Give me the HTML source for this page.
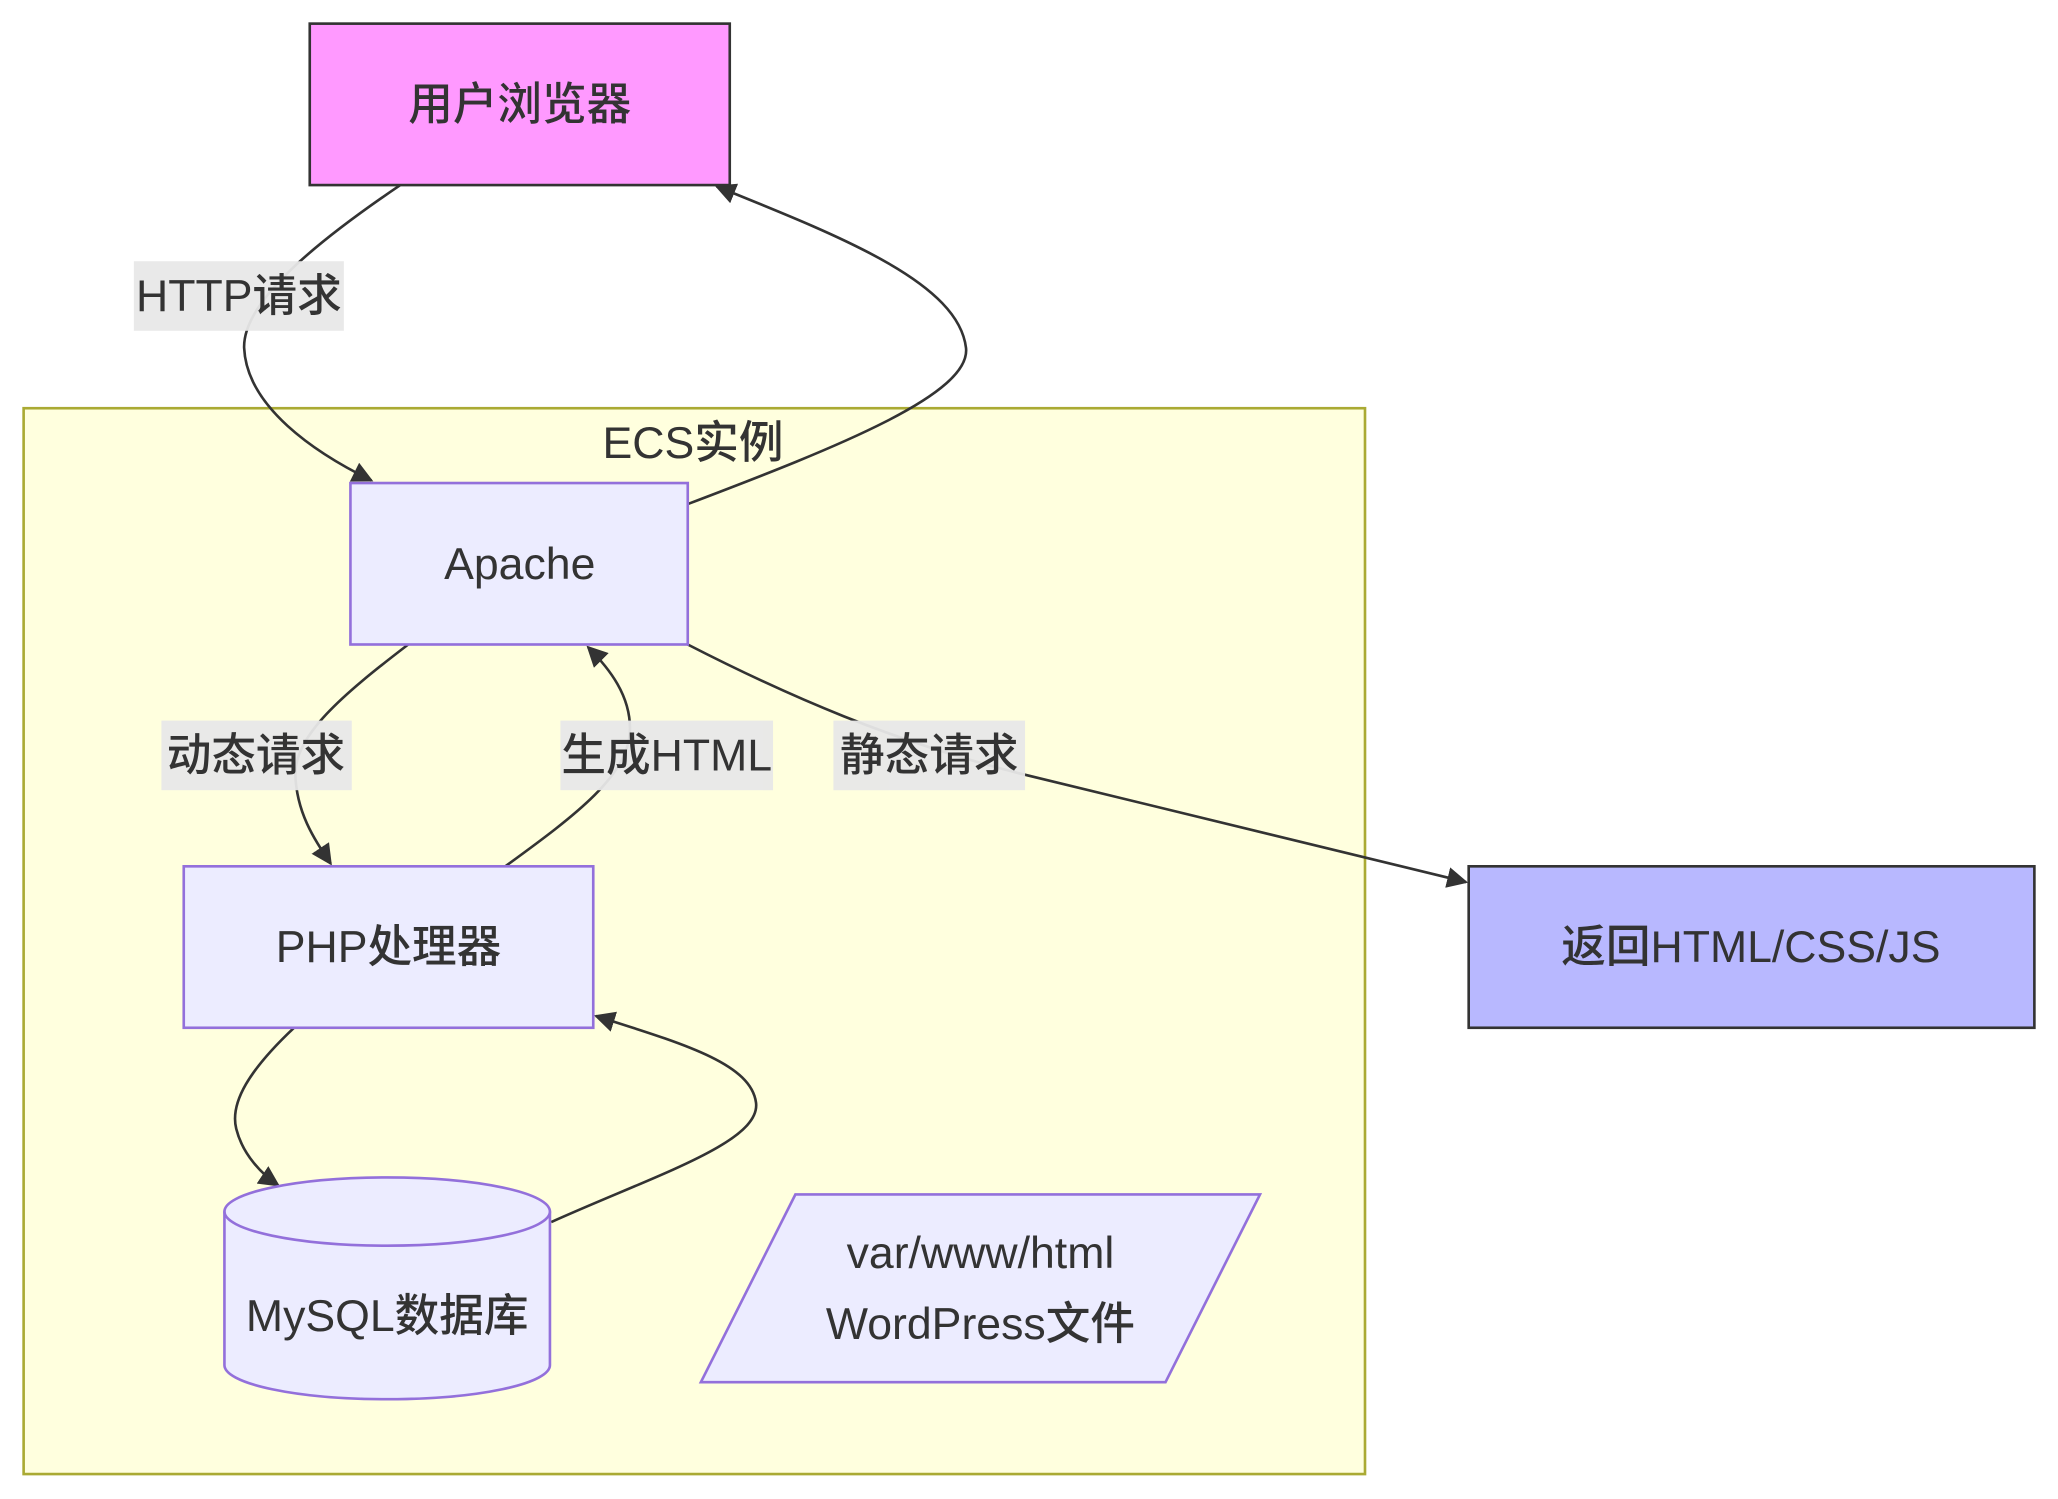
<!DOCTYPE html>
<html><head><meta charset="utf-8"><style>
html,body{margin:0;padding:0;background:#fff;}
svg{display:block}
text{font-family:"Liberation Sans","Noto Sans CJK SC",sans-serif;fill:#333;font-size:34px;font-weight:500;}
</style></head><body>
<svg width="2058" height="1499" viewBox="0 0 1568 1142" preserveAspectRatio="none">
<defs><marker id="a" viewBox="0 0 10 10" refX="9" refY="5" markerWidth="8" markerHeight="8" orient="auto"><path d="M0,0L10,5L0,10z" fill="#333"/></marker></defs>
<rect x="18" y="311" width="1022" height="812" fill="#ffffde" stroke="#aaaa33" stroke-width="2"/>
<text x="528" y="349" text-anchor="middle">ECS实例</text>
<g fill="none" stroke="#333" stroke-width="2">
<path d="M305,141 C240,185 185,230 186,265 C188,310 240,345 283,366" marker-end="url(#a)"/>
<path d="M524,384 C640,340 740,300 736,265 C730,215 640,180 546,142" marker-end="url(#a)"/>
<path d="M311,491 C260,530 225,560 225,590 C226,620 240,640 252,658" marker-end="url(#a)"/>
<path d="M385,660 C440,620 480,590 480,555 C480,530 465,510 448,493" marker-end="url(#a)"/>
<path d="M524,491 C600,530 680,565 780,590 L1117,672" marker-end="url(#a)"/>
<path d="M224,783 C190,815 175,840 180,860 C185,880 200,895 212,903" marker-end="url(#a)"/>
<path d="M420,931 C500,895 580,870 576,840 C572,810 520,795 454,774" marker-end="url(#a)"/>
</g>
<rect x="236" y="18" width="320" height="123" fill="#ff99ff" stroke="#333" stroke-width="2"/>
<text x="396" y="91" text-anchor="middle">用户浏览器</text>
<rect x="267" y="368" width="257" height="123" fill="#ececff" stroke="#9370db" stroke-width="2"/>
<text x="396" y="441" text-anchor="middle">Apache</text>
<rect x="140" y="660" width="312" height="123" fill="#ececff" stroke="#9370db" stroke-width="2"/>
<text x="296" y="733" text-anchor="middle">PHP处理器</text>
<rect x="1119" y="660" width="431" height="123" fill="#b8b8ff" stroke="#333" stroke-width="2"/>
<text x="1334" y="733" text-anchor="middle">返回HTML/CSS/JS</text>
<path d="M171,923 A124,26 0 0 1 419,923 L419,1040 A124,26 0 0 1 171,1040 Z" fill="#ececff" stroke="#9370db" stroke-width="2"/>
<path d="M171,923 A124,26 0 0 0 419,923" fill="none" stroke="#9370db" stroke-width="2"/>
<text x="295" y="1014" text-anchor="middle">MySQL数据库</text>
<polygon points="606,910 960,910 888,1053 534,1053" fill="#ececff" stroke="#9370db" stroke-width="2"/>
<text x="747" y="966" text-anchor="middle">var/www/html</text>
<text x="747" y="1020" text-anchor="middle">WordPress文件</text>
<g fill="#e8e8e8" opacity="0.95">
<rect x="102" y="199" width="160" height="53"/>
<rect x="123" y="549" width="145" height="53"/>
<rect x="427" y="549" width="162" height="53"/>
<rect x="635" y="549" width="146" height="53"/>
</g>
<text x="182" y="237" text-anchor="middle">HTTP请求</text>
<text x="195" y="587" text-anchor="middle">动态请求</text>
<text x="508" y="587" text-anchor="middle">生成HTML</text>
<text x="708" y="587" text-anchor="middle">静态请求</text>
</svg>
</body></html>
